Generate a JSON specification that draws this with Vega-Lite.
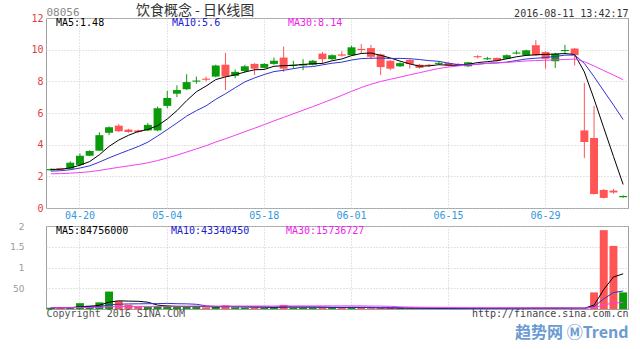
{
  "$schema": "https://vega.github.io/schema/vega-lite/v6.json",
  "background": "white",
  "padding": {"left": 9, "top": 3, "right": 0, "bottom": 0},
  "title": {"text": "趋势网 ⓂTrend", "orient": "bottom", "anchor": "end", "font": "Noto Sans CJK SC", "fontSize": 16, "fontWeight": "bold", "color": "#6b9bd2", "offset": 6},
  "datasets": {
    "k": [
      {"d":"04-15","o":2.38,"h":2.5,"l":2.35,"c":2.46,"ma5":2.442,"ma10":2.331,"ma30":2.16,"v":3000000,"vma5":3000000,"vma10":3000000,"vma30":3000000},
      {"d":"04-18","o":2.52,"h":2.55,"l":2.42,"c":2.44,"ma5":2.44,"ma10":2.353,"ma30":2.173,"v":4000000,"vma5":3200000,"vma10":3100000,"vma30":3030000},
      {"d":"04-19","o":2.48,"h":2.95,"l":2.45,"c":2.86,"ma5":2.532,"ma10":2.417,"ma30":2.199,"v":3000000,"vma5":3200000,"vma10":3100000,"vma30":3030000},
      {"d":"04-20","o":2.72,"h":3.45,"l":2.65,"c":3.3,"ma5":2.702,"ma10":2.525,"ma30":2.24,"v":14000000,"vma5":5400000,"vma10":4200000,"vma30":3400000},
      {"d":"04-21","o":3.3,"h":3.65,"l":3.28,"c":3.6,"ma5":2.932,"ma10":2.663,"ma30":2.29,"v":8000000,"vma5":6400000,"vma10":4700000,"vma30":3570000},
      {"d":"04-22","o":3.62,"h":4.78,"l":3.6,"c":4.6,"ma5":3.36,"ma10":2.901,"ma30":2.375,"v":16000000,"vma5":9000000,"vma10":6000000,"vma30":4000000},
      {"d":"04-25","o":4.75,"h":5.15,"l":4.6,"c":5.1,"ma5":3.892,"ma10":3.166,"ma30":2.475,"v":42000000,"vma5":16600000,"vma10":9900000,"vma30":5300000},
      {"d":"04-26","o":5.2,"h":5.3,"l":4.8,"c":4.85,"ma5":4.29,"ma10":3.411,"ma30":2.568,"v":19000000,"vma5":19800000,"vma10":11500000,"vma30":5830000},
      {"d":"04-27","o":4.95,"h":5.0,"l":4.75,"c":4.8,"ma5":4.59,"ma10":3.646,"ma30":2.659,"v":10000000,"vma5":19000000,"vma10":12200000,"vma30":6070000},
      {"d":"04-28","o":4.9,"h":4.95,"l":4.72,"c":4.8,"ma5":4.83,"ma10":3.881,"ma30":2.75,"v":6000000,"vma5":18600000,"vma10":12500000,"vma30":6170000},
      {"d":"04-29","o":4.9,"h":5.37,"l":4.85,"c":5.25,"ma5":4.96,"ma10":4.16,"ma30":2.855,"v":5000000,"vma5":16400000,"vma10":12700000,"vma30":6230000},
      {"d":"05-03","o":4.9,"h":6.4,"l":4.85,"c":6.3,"ma5":5.2,"ma10":4.546,"ma30":2.996,"v":7000000,"vma5":9400000,"vma10":13000000,"vma30":6370000},
      {"d":"05-04","o":6.45,"h":7.4,"l":6.3,"c":6.95,"ma5":5.62,"ma10":4.955,"ma30":3.159,"v":8000000,"vma5":7200000,"vma10":13500000,"vma30":6530000},
      {"d":"05-05","o":7.22,"h":7.75,"l":7.0,"c":7.45,"ma5":6.15,"ma10":5.37,"ma30":3.338,"v":6000000,"vma5":6400000,"vma10":12700000,"vma30":6630000},
      {"d":"05-06","o":7.5,"h":8.45,"l":7.45,"c":7.95,"ma5":6.78,"ma10":5.805,"ma30":3.534,"v":5000000,"vma5":6200000,"vma10":12400000,"vma30":6700000},
      {"d":"05-09","o":7.98,"h":8.3,"l":7.85,"c":8.05,"ma5":7.34,"ma10":6.15,"ma30":3.733,"v":6000000,"vma5":6400000,"vma10":11400000,"vma30":6800000},
      {"d":"05-10","o":8.17,"h":8.3,"l":8.0,"c":8.1,"ma5":7.7,"ma10":6.45,"ma30":3.934,"v":4000000,"vma5":5800000,"vma10":7600000,"vma30":6830000},
      {"d":"05-11","o":8.3,"h":9.05,"l":8.25,"c":9.0,"ma5":8.11,"ma10":6.865,"ma30":4.165,"v":5000000,"vma5":5200000,"vma10":6200000,"vma30":6900000},
      {"d":"05-12","o":9.05,"h":9.8,"l":7.45,"c":8.3,"ma5":8.28,"ma10":7.215,"ma30":4.372,"v":9000000,"vma5":5800000,"vma10":6100000,"vma30":7100000},
      {"d":"05-13","o":8.35,"h":8.75,"l":8.2,"c":8.6,"ma5":8.41,"ma10":7.595,"ma30":4.59,"v":4000000,"vma5":5600000,"vma10":5900000,"vma30":7130000},
      {"d":"05-16","o":8.65,"h":9.05,"l":8.55,"c":8.95,"ma5":8.59,"ma10":7.965,"ma30":4.819,"v":3000000,"vma5":5000000,"vma10":5700000,"vma30":7130000},
      {"d":"05-17","o":9.1,"h":9.15,"l":8.4,"c":8.8,"ma5":8.73,"ma10":8.215,"ma30":5.038,"v":4000000,"vma5":5000000,"vma10":5400000,"vma30":7170000},
      {"d":"05-18","o":8.85,"h":9.15,"l":8.8,"c":9.1,"ma5":8.75,"ma10":8.43,"ma30":5.267,"v":3000000,"vma5":4600000,"vma10":4900000,"vma30":7170000},
      {"d":"05-19","o":9.1,"h":9.5,"l":9.05,"c":9.3,"ma5":8.95,"ma10":8.615,"ma30":5.503,"v":4000000,"vma5":3600000,"vma10":4700000,"vma30":7200000},
      {"d":"05-20","o":9.5,"h":10.2,"l":8.6,"c":8.8,"ma5":8.99,"ma10":8.7,"ma30":5.723,"v":10000000,"vma5":4800000,"vma10":5200000,"vma30":7430000},
      {"d":"05-23","o":8.98,"h":9.3,"l":8.8,"c":9.05,"ma5":9.01,"ma10":8.8,"ma30":5.95,"v":3000000,"vma5":4800000,"vma10":4900000,"vma30":7430000},
      {"d":"05-25","o":9.0,"h":9.4,"l":8.7,"c":9.1,"ma5":9.07,"ma10":8.9,"ma30":6.172,"v":3000000,"vma5":4600000,"vma10":4800000,"vma30":7430000},
      {"d":"05-26","o":9.05,"h":9.35,"l":9.0,"c":9.3,"ma5":9.11,"ma10":8.93,"ma30":6.402,"v":3000000,"vma5":4600000,"vma10":4600000,"vma30":7430000},
      {"d":"05-27","o":9.75,"h":9.85,"l":9.1,"c":9.4,"ma5":9.13,"ma10":9.04,"ma30":6.634,"v":4000000,"vma5":4600000,"vma10":4100000,"vma30":7470000},
      {"d":"05-30","o":9.4,"h":9.7,"l":9.35,"c":9.65,"ma5":9.3,"ma10":9.145,"ma30":6.874,"v":5000000,"vma5":3600000,"vma10":4200000,"vma30":7530000},
      {"d":"05-31","o":9.7,"h":9.9,"l":9.55,"c":9.62,"ma5":9.414,"ma10":9.212,"ma30":7.112,"v":3000000,"vma5":3600000,"vma10":4200000,"vma30":7530000},
      {"d":"06-01","o":9.65,"h":10.25,"l":9.6,"c":10.15,"ma5":9.624,"ma10":9.347,"ma30":7.369,"v":4000000,"vma5":3800000,"vma10":4200000,"vma30":7530000},
      {"d":"06-02","o":10.05,"h":10.35,"l":9.75,"c":9.98,"ma5":9.76,"ma10":9.435,"ma30":7.607,"v":3000000,"vma5":3800000,"vma10":4200000,"vma30":7530000},
      {"d":"06-03","o":10.1,"h":10.3,"l":9.4,"c":9.55,"ma5":9.79,"ma10":9.46,"ma30":7.815,"v":2000000,"vma5":3400000,"vma10":4000000,"vma30":7130000},
      {"d":"06-06","o":9.7,"h":9.75,"l":8.4,"c":8.9,"ma5":9.64,"ma10":9.47,"ma30":7.992,"v":2000000,"vma5":2800000,"vma10":3200000,"vma30":6930000},
      {"d":"06-07","o":9.3,"h":9.35,"l":8.7,"c":8.8,"ma5":9.476,"ma10":9.445,"ma30":8.132,"v":2500000,"vma5":2700000,"vma10":3150000,"vma30":6480000},
      {"d":"06-08","o":8.95,"h":9.2,"l":8.9,"c":9.15,"ma5":9.276,"ma10":9.45,"ma30":8.267,"v":2000000,"vma5":2300000,"vma10":3050000,"vma30":5150000},
      {"d":"06-09","o":9.35,"h":9.4,"l":8.8,"c":9.1,"ma5":9.1,"ma10":9.43,"ma30":8.408,"v":1500000,"vma5":2000000,"vma10":2900000,"vma30":4570000},
      {"d":"06-10","o":9.05,"h":9.1,"l":8.8,"c":8.85,"ma5":8.96,"ma10":9.375,"ma30":8.543,"v":1000000,"vma5":1800000,"vma10":2600000,"vma30":4270000},
      {"d":"06-13","o":9.05,"h":9.1,"l":8.9,"c":8.98,"ma5":8.976,"ma10":9.308,"ma30":8.683,"v":1000000,"vma5":1600000,"vma10":2200000,"vma30":4100000},
      {"d":"06-14","o":9.1,"h":9.25,"l":9.05,"c":9.17,"ma5":9.05,"ma10":9.263,"ma30":8.813,"v":1000000,"vma5":1300000,"vma10":2000000,"vma30":3970000},
      {"d":"06-15","o":9.15,"h":9.2,"l":8.95,"c":9.0,"ma5":9.02,"ma10":9.148,"ma30":8.903,"v":1000000,"vma5":1100000,"vma10":1700000,"vma30":3770000},
      {"d":"06-16","o":9.1,"h":9.15,"l":8.98,"c":9.03,"ma5":9.006,"ma10":9.053,"ma30":8.973,"v":1000000,"vma5":1000000,"vma10":1500000,"vma30":3530000},
      {"d":"06-17","o":8.95,"h":9.22,"l":8.9,"c":9.2,"ma5":9.076,"ma10":9.018,"ma30":9.031,"v":1500000,"vma5":1100000,"vma10":1450000,"vma30":3380000},
      {"d":"06-20","o":9.59,"h":9.65,"l":9.45,"c":9.52,"ma5":9.184,"ma10":9.08,"ma30":9.083,"v":2000000,"vma5":1300000,"vma10":1450000,"vma30":3280000},
      {"d":"06-21","o":9.39,"h":9.55,"l":9.35,"c":9.46,"ma5":9.242,"ma10":9.146,"ma30":9.13,"v":2000000,"vma5":1500000,"vma10":1400000,"vma30":3150000},
      {"d":"06-22","o":9.48,"h":9.5,"l":9.25,"c":9.3,"ma5":9.302,"ma10":9.161,"ma30":9.17,"v":2000000,"vma5":1700000,"vma10":1400000,"vma30":3080000},
      {"d":"06-23","o":9.43,"h":9.7,"l":9.4,"c":9.65,"ma5":9.426,"ma10":9.216,"ma30":9.192,"v":2000000,"vma5":1900000,"vma10":1450000,"vma30":2980000},
      {"d":"06-24","o":9.75,"h":9.95,"l":9.7,"c":9.82,"ma5":9.55,"ma10":9.313,"ma30":9.243,"v":2200000,"vma5":2040000,"vma10":1570000,"vma30":2760000},
      {"d":"06-27","o":9.65,"h":10.0,"l":9.6,"c":9.96,"ma5":9.638,"ma10":9.411,"ma30":9.288,"v":1997310,"vma5":2040000,"vma10":1670000,"vma30":2690000},
      {"d":"06-28","o":10.28,"h":10.6,"l":9.6,"c":9.65,"ma5":9.676,"ma10":9.459,"ma30":9.311,"v":2500000,"vma5":2140000,"vma10":1820000,"vma30":2670000},
      {"d":"06-29","o":9.85,"h":9.9,"l":8.8,"c":9.43,"ma5":9.702,"ma10":9.502,"ma30":9.332,"v":2000000,"vma5":2140000,"vma10":1920000,"vma30":2610000},
      {"d":"06-30","o":9.27,"h":9.8,"l":8.85,"c":9.75,"ma5":9.722,"ma10":9.574,"ma30":9.354,"v":2000000,"vma5":2140000,"vma10":2020000,"vma30":2570000},
      {"d":"07-04","o":9.91,"h":10.3,"l":9.75,"c":9.98,"ma5":9.754,"ma10":9.652,"ma30":9.377,"v":1500000,"vma5":2000000,"vma10":2020000,"vma30":2490000},
      {"d":"07-05","o":10.07,"h":10.1,"l":9.0,"c":9.65,"ma5":9.692,"ma10":9.665,"ma30":9.405,"v":1624500,"vma5":1920000,"vma10":1980000,"vma30":2210000},
      {"d":"07-06","o":4.9,"h":7.9,"l":3.15,"c":4.17,"ma5":8.596,"ma10":9.136,"ma30":9.242,"v":1780000,"vma5":1780000,"vma10":1960000,"vma30":2170000},
      {"d":"07-07","o":4.42,"h":6.45,"l":0.85,"c":0.88,"ma5":6.886,"ma10":8.294,"ma30":8.968,"v":40000000,"vma5":9380000,"vma10":5760000,"vma30":3400000},
      {"d":"07-08","o":1.14,"h":1.2,"l":0.6,"c":0.64,"ma5":5.064,"ma10":7.393,"ma30":8.68,"v":190000000,"vma5":46980000,"vma10":24560000,"vma30":9640000},
      {"d":"07-11","o":1.1,"h":1.2,"l":0.9,"c":0.98,"ma5":3.264,"ma10":6.509,"ma30":8.399,"v":152000000,"vma5":77080000,"vma10":39540000,"vma30":14570000},
      {"d":"07-12","o":0.68,"h":0.8,"l":0.65,"c":0.76,"ma5":1.486,"ma10":5.589,"ma30":8.103,"v":40000000,"vma5":84756000,"vma10":43340450,"vma30":15736727}
    ]
  },
  "spacing": 0,
  "resolve": {"scale": {"color": "independent"}, "legend": {"color": "independent"}},
  "vconcat": [
    {
      "width": 582,
      "height": 190,
      "title": {"text": "饮食概念 - 日K线图", "anchor": "start", "dx": 105, "font": "Noto Sans CJK SC", "fontSize": 14, "fontWeight": "normal", "color": "#333333", "offset": -12},
      "data": {"name": "k"},
      "encoding": {
        "x": {
          "field": "d", "type": "ordinal",
          "scale": {"paddingInner": 0.18, "paddingOuter": 0.09},
          "axis": {
            "values": ["04-20", "05-04", "05-18", "06-01", "06-15", "06-29"],
            "labelAngle": 0, "labelColor": "#3399dd", "labelPadding": 2, "grid": true, "labelOverlap": false,
            "title": "2016-08-11 13:42:17", "titleX": 582, "titleY": -195, "titleAlign": "right", "titleBaseline": "middle", "titleColor": "#333333"
          }
        }
      },
      "layer": [
        {
          "mark": {"type": "rule", "strokeWidth": 1},
          "encoding": {
            "y": {
              "field": "l", "type": "quantitative",
              "scale": {"domain": [0, 12], "nice": false, "zero": false},
              "axis": {
                "values": [0, 2, 4, 6, 8, 10, 12], "labelColor": "#e03c3c", "labelPadding": 3, "grid": true, "labelOverlap": false, "labelBound": false,
                "title": "08056", "titleAngle": 0, "titleX": 0, "titleY": -6, "titleAlign": "left", "titleBaseline": "middle", "titleColor": "#888888", "titleFontSize": 11
              }
            },
            "y2": {"field": "h"},
            "color": {"condition": {"test": "datum.c < datum.o", "value": "#ff5555"}, "value": "#0a9a0a"}
          }
        },
        {
          "mark": {"type": "bar"},
          "encoding": {
            "y": {
              "field": "o", "type": "quantitative",
              "axis": {
                "values": [0, 2, 4, 6, 8, 10, 12], "labelColor": "#e03c3c", "labelPadding": 3, "grid": true, "labelOverlap": false, "labelBound": false,
                "title": "08056", "titleAngle": 0, "titleX": 0, "titleY": -6, "titleAlign": "left", "titleBaseline": "middle", "titleColor": "#888888", "titleFontSize": 11
              }
            },
            "y2": {"field": "c"},
            "color": {"condition": {"test": "datum.c < datum.o", "value": "#ff5555"}, "value": "#0a9a0a"}
          }
        },
        {
          "transform": [{"fold": ["ma5", "ma10", "ma30"], "as": ["k", "val"]}],
          "mark": {"type": "line", "strokeWidth": 1},
          "encoding": {
            "y": {
              "field": "val", "type": "quantitative",
              "axis": {
                "values": [0, 2, 4, 6, 8, 10, 12], "labelColor": "#e03c3c", "labelPadding": 3, "grid": true, "labelOverlap": false, "labelBound": false,
                "title": "08056", "titleAngle": 0, "titleX": 0, "titleY": -6, "titleAlign": "left", "titleBaseline": "middle", "titleColor": "#888888", "titleFontSize": 11
              }
            },
            "color": {
              "field": "k", "type": "nominal",
              "scale": {"domain": ["ma5", "ma10", "ma30"], "range": ["#000000", "#3232d2", "#f040f0"]},
              "legend": {
                "orient": "top-left", "direction": "horizontal", "title": null, "offset": 0, "padding": 0,
                "symbolSize": 0, "symbolOpacity": 0, "symbolStrokeWidth": 0, "labelOffset": 0,
                "columnPadding": 51, "gridAlign": "all",
                "labelExpr": "datum.label == 'ma5' ? 'MA5:1.48' : datum.label == 'ma10' ? 'MA10:5.6' : 'MA30:8.14'",
                "encode": {"labels": {"update": {"fill": {"signal": "datum.value == 'ma5' ? '#000000' : datum.value == 'ma10' ? '#2020d0' : '#ee22ee'"}}}}
              }
            }
          }
        }
      ]
    },
    {
      "width": 582,
      "height": 83,
      "data": {"name": "k"},
      "encoding": {
        "x": {
          "field": "d", "type": "ordinal",
          "scale": {"paddingInner": 0.18, "paddingOuter": 0.09},
          "axis": {
            "values": ["04-20", "05-04", "05-18", "06-01", "06-15", "06-29"],
            "labels": false, "grid": true,
            "title": "http://finance.sina.com.cn", "titleAnchor": "end", "titlePadding": -1, "titleColor": "#444444"
          }
        }
      },
      "layer": [
        {
          "mark": {"type": "bar"},
          "encoding": {
            "y": {
              "field": "v", "type": "quantitative",
              "scale": {"domain": [0, 200000000], "nice": false},
              "axis": {
                "values": [50000000, 100000000, 150000000, 200000000],
                "labelExpr": "datum.value == 200000000 ? '2' : datum.value == 150000000 ? '1.5' : datum.value == 100000000 ? '1' : '50'",
                "labelColor": "#999999", "labelFont": "DejaVu Sans", "labelFontSize": 9, "labelPadding": 22, "grid": true, "labelOverlap": false, "labelBound": false,
                "title": "Copyright 2016 SINA.COM", "titleAngle": 0, "titleX": 0, "titleY": 82, "titleAlign": "left", "titleBaseline": "top", "titleColor": "#555555"
              }
            },
            "color": {"condition": {"test": "datum.c < datum.o", "value": "#ff5555"}, "value": "#0a9a0a"}
          }
        },
        {
          "transform": [{"fold": ["vma5", "vma10", "vma30"], "as": ["vk", "vval"]}],
          "mark": {"type": "line", "strokeWidth": 1},
          "encoding": {
            "y": {
              "field": "vval", "type": "quantitative",
              "axis": {
                "values": [50000000, 100000000, 150000000, 200000000],
                "labelExpr": "datum.value == 200000000 ? '2' : datum.value == 150000000 ? '1.5' : datum.value == 100000000 ? '1' : '50'",
                "labelColor": "#999999", "labelFont": "DejaVu Sans", "labelFontSize": 9, "labelPadding": 22, "grid": true, "labelOverlap": false, "labelBound": false,
                "title": "Copyright 2016 SINA.COM", "titleAngle": 0, "titleX": 0, "titleY": 82, "titleAlign": "left", "titleBaseline": "top", "titleColor": "#555555"
              }
            },
            "color": {
              "field": "vk", "type": "nominal",
              "scale": {"domain": ["vma5", "vma10", "vma30"], "range": ["#000000", "#3232d2", "#f040f0"]},
              "legend": {
                "orient": "top-left", "direction": "horizontal", "title": null, "offset": 0, "padding": 0,
                "symbolSize": 0, "symbolOpacity": 0, "symbolStrokeWidth": 0, "labelOffset": 0,
                "columnPadding": 26, "gridAlign": "all",
                "labelExpr": "datum.label == 'vma5' ? 'MA5:84756000' : datum.label == 'vma10' ? 'MA10:43340450' : 'MA30:15736727'",
                "encode": {"labels": {"update": {"fill": {"signal": "datum.value == 'vma5' ? '#000000' : datum.value == 'vma10' ? '#2020d0' : '#ee22ee'"}}}}
              }
            }
          }
        }
      ]
    }
  ],
  "config": {
    "font": "DejaVu Sans Mono",
    "view": {"stroke": "#a0a0a0", "strokeWidth": 1},
    "axis": {
      "gridColor": "#c8c8c8", "gridDash": [1, 2], "ticks": false, "domain": false, "labelOverlap": false,
      "labelFont": "DejaVu Sans Mono", "labelFontSize": 10,
      "titleFont": "DejaVu Sans Mono", "titleFontSize": 10, "titleFontWeight": "normal"
    },
    "legend": {"labelFont": "DejaVu Sans Mono", "labelFontSize": 10}
  }
}
